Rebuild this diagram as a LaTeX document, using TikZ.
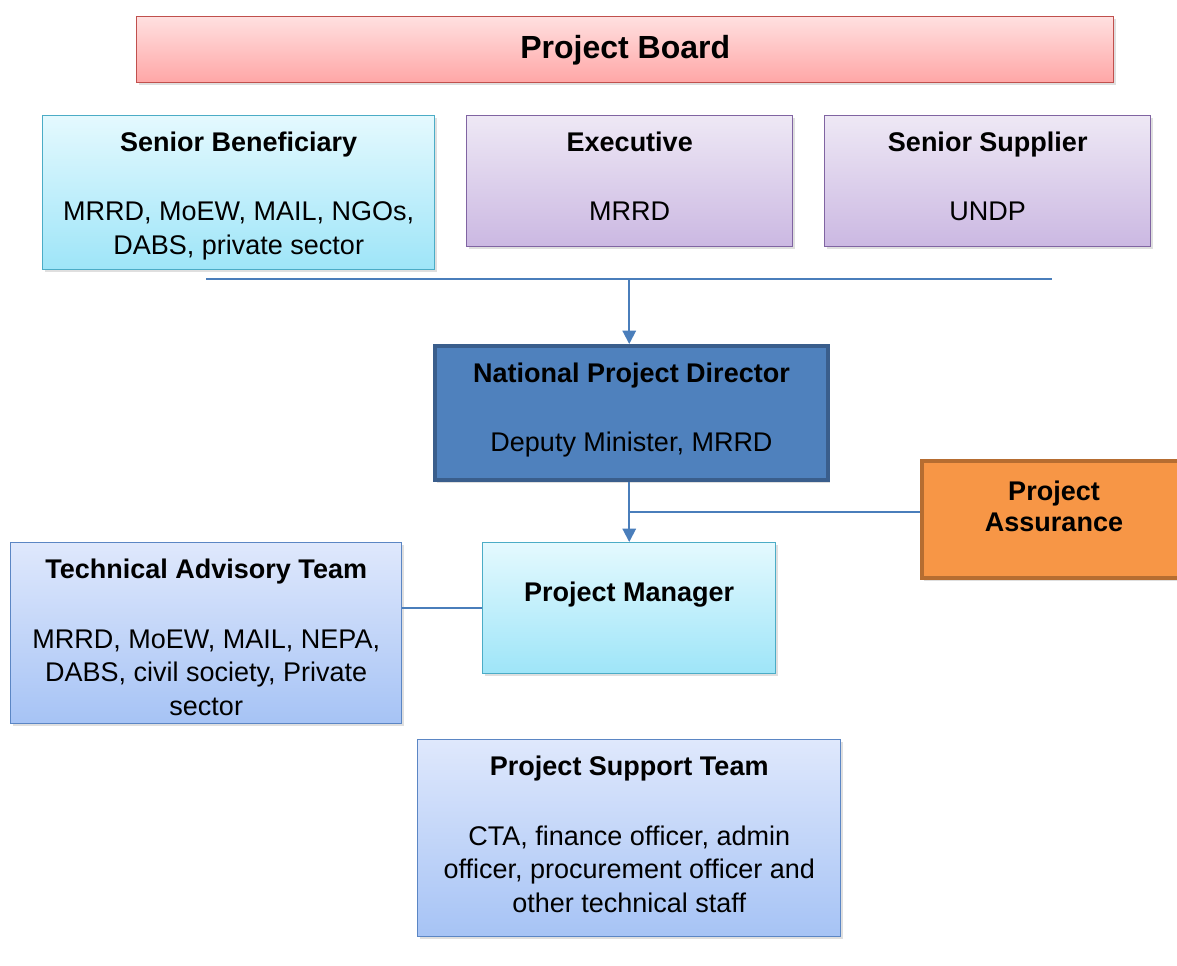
\documentclass[tikz,border=0pt]{standalone}
\usepackage{fontspec}
\setmainfont{Liberation Sans}
\usepackage{tikz}
\usetikzlibrary{positioning,calc,shadows,arrows.meta}
\definecolor{BoardTop}{HTML}{FFE0E0}
\definecolor{BoardBot}{HTML}{FFA6A6}
\definecolor{BoardLine}{HTML}{C0504D}
\definecolor{CyanTop}{HTML}{E4F9FE}
\definecolor{CyanBot}{HTML}{9EE5F8}
\definecolor{CyanLine}{HTML}{4BACC6}
\definecolor{LilacTop}{HTML}{EEE8F5}
\definecolor{LilacBot}{HTML}{CBB8E2}
\definecolor{LilacLine}{HTML}{8064A2}
\definecolor{DirFill}{HTML}{4F81BD}
\definecolor{DirLine}{HTML}{3A5E8C}
\definecolor{AssFill}{HTML}{F79646}
\definecolor{AssLine}{HTML}{B66D31}
\definecolor{BlueTop}{HTML}{DFE8FC}
\definecolor{BlueBot}{HTML}{A6C3F5}
\definecolor{BlueLine}{HTML}{5B86C4}
\definecolor{LinkBlue}{HTML}{4A7EBB}

\begin{document}
\begin{tikzpicture}[x=1pt,y=1pt,>={Triangle[width=10pt,length=10pt]},
                    every node/.style={align=center, inner sep=0pt,
                                       font=\fontsize{20.25}{25.1}\selectfont},
                    box/.style={anchor=north west, line width=1.1pt,
                                drop shadow={opacity=0.25, shadow xshift=1.5pt, shadow yshift=-2pt}},
                    boardbox/.style={box, draw=BoardLine, top color=BoardTop, bottom color=BoardBot},
                    cyanbox/.style={box, draw=CyanLine, top color=CyanTop, bottom color=CyanBot},
                    lilacbox/.style={box, draw=LilacLine, top color=LilacTop, bottom color=LilacBot},
                    bluebox/.style={box, draw=BlueLine, top color=BlueTop, bottom color=BlueBot},
                    link/.style={draw=LinkBlue, line width=1.5pt}]
\useasboundingbox (0,0) rectangle (882.75,-723.75);
% board and its three roles
\node[boardbox, minimum width=732.75pt, minimum height=49.5pt] (board) at (102,-12)
     {\fontsize{24}{28}\selectfont\bfseries Project Board};
\node[cyanbox, minimum width=294pt, minimum height=115.5pt] (benef) at (31.5,-86.25)
     {\mbox{}\\[-6pt]\textbf{Senior Beneficiary}\\[27pt]MRRD, MoEW, MAIL, NGOs,\\DABS, private sector};
\node[lilacbox, minimum width=244.5pt, minimum height=98.25pt] (exec) at (349.5,-86.25)
     {\textbf{Executive}\\[27pt]MRRD\\[-17.6pt]\mbox{}};
\node[lilacbox, minimum width=244.5pt, minimum height=98.25pt] (supp) at (618,-86.25)
     {\textbf{Senior Supplier}\\[27pt]UNDP\\[-17.6pt]\mbox{}};
% management line
\node[box, draw=DirLine, fill=DirFill, line width=3pt, minimum width=294.75pt, minimum height=100.5pt] (npd) at (324.75,-258)
     {\textbf{National Project Director}\\[27pt]Deputy Minister, MRRD\\[-16.3pt]\mbox{}};
\node[box, draw=AssLine, fill=AssFill, line width=3pt, minimum width=198pt, minimum height=87.75pt,
      font=\fontsize{20.25}{23.25}\selectfont\bfseries] (assur) at (690,-344.25)
     {Project\\Assurance\\[-3pt]\mbox{}};
\node[cyanbox, minimum width=219.75pt, minimum height=98.25pt] (pm) at (361.5,-406.5)
     {\textbf{Project Manager}\\~};
\node[bluebox, minimum width=293.25pt, minimum height=135.75pt] (tat) at (7.5,-406.5)
     {\mbox{}\\[-4.4pt]\textbf{Technical Advisory Team}\\[27pt]MRRD, MoEW, MAIL, NEPA,\\DABS, civil society, Private\\sector};
\node[bluebox, minimum width=317.25pt, minimum height=147.75pt] (pst) at (312.75,-554.25)
     {\textbf{Project Support Team}\\[27pt]CTA, finance officer, admin\\officer, procurement officer and\\other technical staff\\[-19.1pt]\mbox{}};
% connectors
\coordinate (busL) at (154.5,-209.25);
\coordinate (busR) at (789,-209.25);
\draw[link] (busL) -- (busR);
\draw[link,->] (busL -| pm.north) -- (pm.north |- npd.north);
\draw[link,->] (pm.north |- npd.south) -- (pm.north);
\coordinate (jn) at ($(npd.south)!0.5!(pm.north)$);
\draw[link] (jn -| pm.north) -- (jn -| assur.west);
\draw[link] (tat.east |- pm.west) -- (pm.west);
\end{tikzpicture}
\end{document}
